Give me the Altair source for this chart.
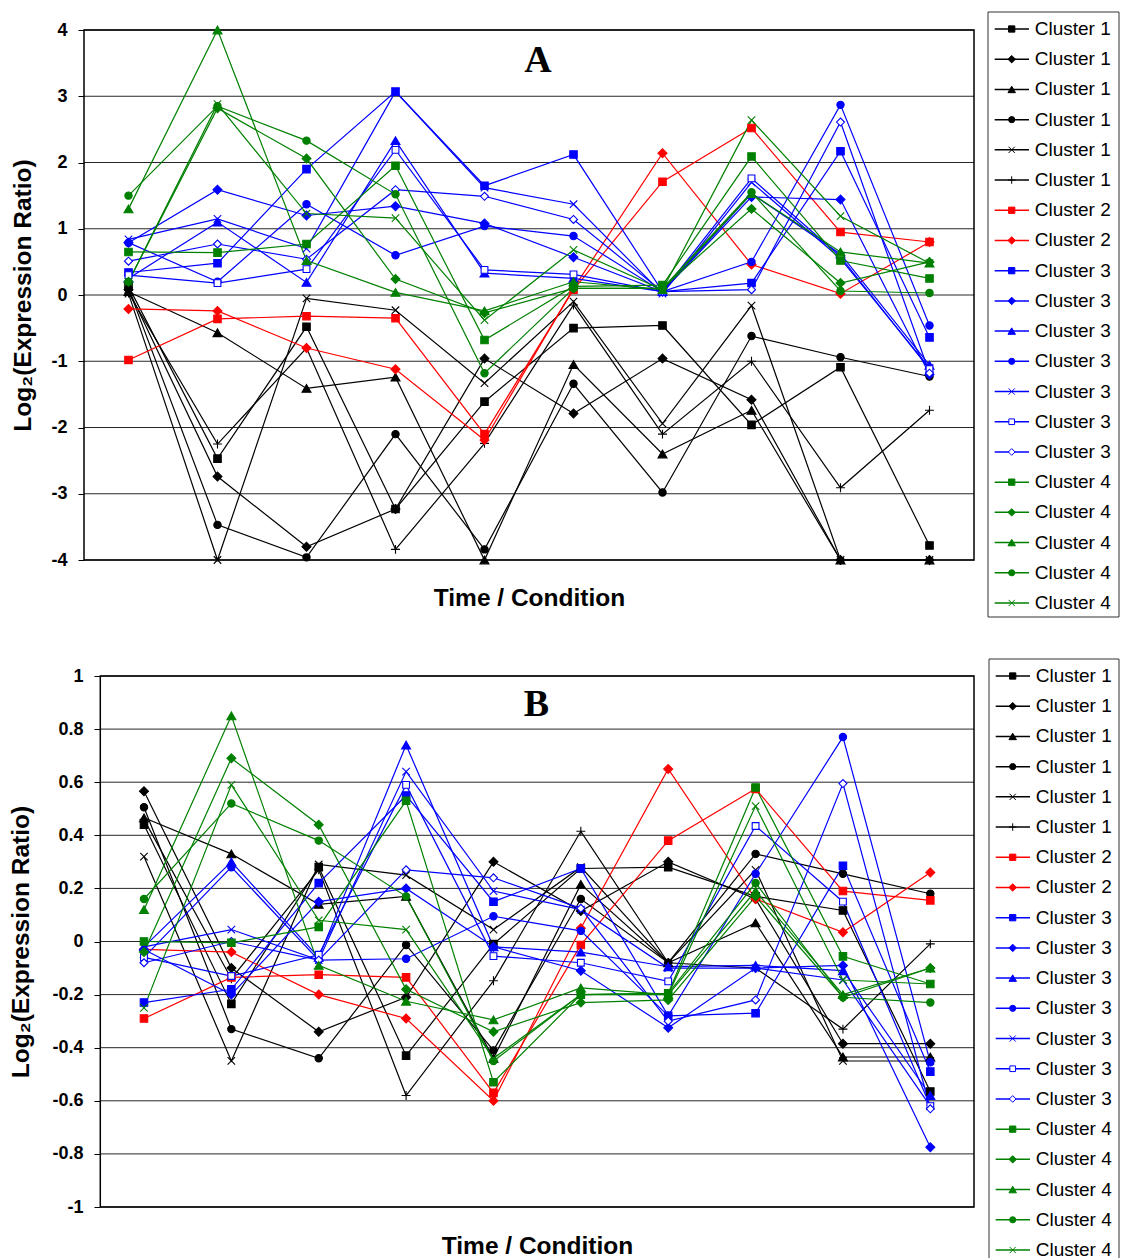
import altair as alt
import pandas as pd

# ---------------- data ----------------
time_points = [1, 2, 3, 4, 5, 6, 7, 8, 9, 10]
series_names = ["Cluster 1"] * 6 + ["Cluster 2"] * 2 + ["Cluster 3"] * 7 + ["Cluster 4"] * 5
series_markers = ["square", "diamond", "triangle", "circle", "x", "plus",
                  "square", "diamond",
                  "square", "diamond", "triangle", "circle", "x", "open_square", "open_diamond",
                  "square", "diamond", "triangle", "circle", "x"]
cluster_colors = {"Cluster 1": "#000000", "Cluster 2": "#FF0000",
                  "Cluster 3": "#0000FF", "Cluster 4": "#008000"}

# Panel A  (log2 expression ratio)
a_c1_square = [0.13, -2.47, -0.48, -3.23, -1.61, -0.50, -0.46, -1.96, -1.09, -3.78]
a_c1_diamond = [0.08, -2.74, -3.80, -3.23, -0.96, -1.79, -0.96, -1.58, -4.00, -4.00]
a_c1_triangle = [0.05, -0.57, -1.41, -1.24, -4.00, -1.05, -2.40, -1.74, -4.00, -4.00]
a_c1_circle = [0.10, -3.47, -3.96, -2.10, -3.84, -1.34, -2.98, -0.62, -0.94, -1.23]
a_c1_x = [0.02, -4.00, -0.05, -0.23, -1.33, -0.10, -1.94, -0.16, -4.00, -4.00]
a_c1_plus = [0.03, -2.25, -0.80, -3.84, -2.24, -0.15, -2.10, -1.00, -2.91, -1.74]
a_c2_square = [-0.98, -0.36, -0.32, -0.35, -2.10, 0.08, 1.71, 2.52, 0.95, 0.80]
a_c2_diamond = [-0.21, -0.24, -0.80, -1.12, -2.19, 0.10, 2.14, 0.46, 0.02, 0.80]
a_c3_square = [0.34, 0.48, 1.90, 3.07, 1.65, 2.12, 0.05, 0.18, 2.17, -0.64]
a_c3_diamond = [0.79, 1.59, 1.20, 1.34, 1.08, 0.57, 0.05, 1.48, 1.44, -1.20]
a_c3_triangle = [0.25, 1.10, 0.19, 2.33, 0.33, 0.25, 0.05, 1.53, 0.62, -1.06]
a_c3_circle = [0.79, 0.20, 1.37, 0.60, 1.04, 0.89, 0.05, 0.50, 2.87, -0.46]
a_c3_x = [0.84, 1.15, 0.70, 3.07, 1.62, 1.37, 0.02, 1.70, 0.55, -1.10]
a_c3_open_square = [0.30, 0.18, 0.39, 2.19, 0.38, 0.31, 0.05, 1.76, 0.58, -1.12]
a_c3_open_diamond = [0.51, 0.77, 0.54, 1.59, 1.49, 1.14, 0.05, 0.08, 2.61, -1.18]
a_c4_square = [0.65, 0.64, 0.77, 1.95, -0.68, 0.13, 0.15, 2.09, 0.52, 0.25]
a_c4_diamond = [0.20, 2.82, 2.06, 0.24, -0.27, 0.10, 0.10, 1.30, 0.18, 0.50]
a_c4_triangle = [1.30, 4.00, 0.52, 0.04, -0.24, 0.20, 0.08, 1.53, 0.65, 0.48]
a_c4_circle = [1.50, 2.85, 2.33, 1.52, -1.18, 0.10, 0.10, 1.55, 0.06, 0.03]
a_c4_x = [0.20, 2.88, 1.23, 1.16, -0.38, 0.68, 0.08, 2.64, 1.19, 0.48]

# Panel B
b_c1_square = [0.44, -0.235, 0.28, -0.43, -0.01, 0.275, 0.28, 0.17, 0.117, -0.565]
b_c1_diamond = [0.566, -0.10, -0.34, -0.21, 0.30, 0.115, 0.30, 0.16, -0.385, -0.385]
b_c1_triangle = [0.466, 0.33, 0.14, 0.17, -0.44, 0.215, -0.08, 0.07, -0.435, -0.435]
b_c1_circle = [0.506, -0.33, -0.44, -0.013, -0.41, 0.16, -0.08, 0.33, 0.255, 0.18]
b_c1_x = [0.32, -0.45, 0.29, 0.25, 0.045, 0.28, -0.08, 0.27, -0.45, -0.45]
b_c1_plus = [0.46, -0.14, 0.27, -0.58, -0.148, 0.415, -0.08, -0.10, -0.33, -0.009]
b_c2_square = [-0.29, -0.135, -0.125, -0.135, -0.57, -0.013, 0.38, 0.575, 0.19, 0.155]
b_c2_diamond = [-0.03, -0.04, -0.20, -0.29, -0.60, 0.05, 0.65, 0.16, 0.035, 0.26]
b_c3_square = [-0.23, -0.18, 0.22, 0.55, 0.15, 0.275, -0.28, -0.27, 0.285, -0.49]
b_c3_diamond = [-0.03, -0.20, 0.15, 0.20, -0.02, -0.11, -0.325, -0.10, -0.09, -0.775]
b_c3_triangle = [-0.02, 0.30, -0.06, 0.74, -0.02, -0.04, -0.095, -0.09, -0.11, -0.58]
b_c3_circle = [-0.06, 0.28, -0.07, -0.065, 0.095, 0.04, -0.28, 0.255, 0.77, -0.455]
b_c3_x = [-0.02, 0.045, -0.07, 0.64, 0.19, 0.12, -0.10, -0.10, -0.145, -0.62]
b_c3_open_square = [-0.06, -0.13, -0.05, 0.59, -0.055, -0.08, -0.15, 0.435, 0.15, -0.62]
b_c3_open_diamond = [-0.08, 0.00, -0.07, 0.27, 0.24, 0.125, -0.30, -0.22, 0.595, -0.63]
b_c4_square = [0.00, -0.005, 0.055, 0.53, -0.53, -0.20, -0.195, 0.58, -0.056, -0.16]
b_c4_diamond = [-0.04, 0.69, 0.44, -0.18, -0.34, -0.23, -0.22, 0.17, -0.21, -0.10]
b_c4_triangle = [0.12, 0.85, -0.09, -0.225, -0.295, -0.175, -0.20, 0.19, -0.20, -0.10]
b_c4_circle = [0.16, 0.52, 0.38, 0.17, -0.45, -0.20, -0.195, 0.22, -0.21, -0.23]
b_c4_x = [-0.25, 0.59, 0.08, 0.045, -0.44, -0.20, -0.20, 0.51, -0.145, -0.16]

panel_a_series = [a_c1_square, a_c1_diamond, a_c1_triangle, a_c1_circle, a_c1_x, a_c1_plus,
                  a_c2_square, a_c2_diamond,
                  a_c3_square, a_c3_diamond, a_c3_triangle, a_c3_circle, a_c3_x,
                  a_c3_open_square, a_c3_open_diamond,
                  a_c4_square, a_c4_diamond, a_c4_triangle, a_c4_circle, a_c4_x]
panel_b_series = [b_c1_square, b_c1_diamond, b_c1_triangle, b_c1_circle, b_c1_x, b_c1_plus,
                  b_c2_square, b_c2_diamond,
                  b_c3_square, b_c3_diamond, b_c3_triangle, b_c3_circle, b_c3_x,
                  b_c3_open_square, b_c3_open_diamond,
                  b_c4_square, b_c4_diamond, b_c4_triangle, b_c4_circle, b_c4_x]

y_ticks_a = [-4, -3, -2, -1, 0, 1, 2, 3, 4]
y_ticks_b = [-1, -0.8, -0.6, -0.4, -0.2, 0, 0.2, 0.4, 0.6, 0.8, 1]

# ---------------- styles ----------------
X_PATH = "M-1,-1L1,1M-1,1L1,-1"
PLUS_PATH = "M-1,0L1,0M0,-1L0,1"
MARKER_STYLE = {
    "square": ("square", "solid", 56),
    "diamond": ("diamond", "solid", 80),
    "triangle": ("triangle-up", "solid", 80),
    "circle": ("circle", "solid", 54),
    "x": (X_PATH, "none", 56),
    "plus": (PLUS_PATH, "none", 80),
    "open_square": ("square", "white", 46),
    "open_diamond": ("diamond", "white", 64),
}


def fill_for(kind, color):
    if kind == "solid":
        return color
    if kind == "white":
        return "#FFFFFF"
    return "transparent"


def build_df(series_list):
    rows = []
    for i, vals in enumerate(series_list):
        color = cluster_colors[series_names[i]]
        shape, fk, size = MARKER_STYLE[series_markers[i]]
        for t, v in zip(time_points, vals):
            rows.append(dict(s=i, t=t, v=v, color=color, shape=shape,
                             fill=fill_for(fk, color), size=size))
    return pd.DataFrame(rows)


legend_rows = []
for i, name in enumerate(series_names):
    color = cluster_colors[name]
    shape, fk, size = MARKER_STYLE[series_markers[i]]
    legend_rows.append(dict(row=i, label=name, color=color, shape=shape,
                            fill=fill_for(fk, color), lsize=size * 0.7))
legend_df = pd.DataFrame(legend_rows)
one = pd.DataFrame({"k": [0]})

FONT = "Liberation Sans"
LABEL_EXPR = "datum.value < 0 ? '-' + format(-datum.value, '~g') : format(datum.value, '~g')"
VIEW_W = 890


def panel(series_list, ydomain, yticks, xdomain, letter, h, title_pad, axis_offset,
          xtitle_x, xtitle_pad, leg, box_layers):
    df = build_df(series_list)
    frame_df = pd.DataFrame({"t": [0.5], "t2": [10.5], "v": [ydomain[0]], "v2": [ydomain[1]]})
    grid_df = pd.DataFrame({"t": [0.5] * len(yticks), "t2": [10.5] * len(yticks), "v": yticks})

    x = alt.X("t:Q", scale=alt.Scale(domain=xdomain, nice=False, zero=False),
              axis=alt.Axis(labels=False, ticks=False, grid=False, domain=False,
                            title="Time / Condition", titleFont=FONT, titleFontSize=24.5,
                            titleFontWeight="bold", titleColor="#000",
                            titlePadding=xtitle_pad, titleX=xtitle_x, titleAlign="center"))
    y = alt.Y("v:Q", scale=alt.Scale(domain=ydomain, nice=False, zero=False),
              axis=alt.Axis(values=yticks, labelExpr=LABEL_EXPR, grid=False,
                            domain=False, tickSize=6, tickColor="#000", tickWidth=1,
                            labelFont=FONT, labelFontSize=18, labelFontWeight="bold",
                            labelColor="#000", labelPadding=11, offset=axis_offset,
                            title="Log₂(Expression Ratio)", titleFont=FONT,
                            titleFontSize=24.5, titleFontWeight="bold", titleColor="#000",
                            titlePadding=title_pad))
    grid = alt.Chart(grid_df).mark_rule(stroke="#000", strokeWidth=1, opacity=0.85).encode(
        x=x, x2="t2:Q", y=y)
    frame = alt.Chart(frame_df).mark_rect(fillOpacity=0, stroke="#000", strokeWidth=1.5).encode(
        x=x, x2="t2:Q", y=y, y2="v2:Q")
    base = alt.Chart(df)
    lines = base.mark_line(strokeWidth=1.2).encode(
        x=x, y=y, detail="s:N", stroke=alt.Stroke("color:N", scale=None))
    pts = base.mark_point(opacity=1, strokeWidth=1.1).encode(
        x=x, y=y, detail="s:N",
        shape=alt.Shape("shape:N", scale=None),
        fill=alt.Fill("fill:N", scale=None),
        stroke=alt.Stroke("color:N", scale=None),
        size=alt.Size("size:Q", scale=None))
    data_layer = alt.layer(grid, frame, lines, pts)

    ly = alt.Y("row:Q", scale=alt.Scale(domain=[0, 19], range=leg["range"]), axis=None)
    lb = alt.Chart(legend_df)
    leg_rule = lb.mark_rule(strokeWidth=1.5).encode(
        x=alt.value(leg["x0"]), x2=alt.value(leg["x1"]), y=ly,
        stroke=alt.Stroke("color:N", scale=None))
    leg_pt = lb.mark_point(opacity=1, strokeWidth=1).encode(
        x=alt.value(leg["xm"]), y=ly,
        shape=alt.Shape("shape:N", scale=None),
        fill=alt.Fill("fill:N", scale=None),
        stroke=alt.Stroke("color:N", scale=None),
        size=alt.Size("lsize:Q", scale=None))
    leg_txt = lb.mark_text(align="left", baseline="middle", font=FONT, fontSize=19,
                           color="#000").encode(
        x=alt.value(leg["xt"]), y=ly, text="label:N")

    letter_mark = alt.Chart(one).mark_text(
        font="Liberation Serif", fontWeight="bold", fontSize=38, align="center",
        baseline="alphabetic", color="#000").encode(
        x=alt.value(letter[1]), y=alt.value(letter[2]), text=alt.value(letter[0]))

    layers = box_layers + [data_layer, leg_rule, leg_pt, leg_txt, letter_mark]
    return alt.layer(*layers).resolve_scale(y="independent").properties(width=VIEW_W, height=h)


# legend box for panel A (full rectangle)
box_a = [alt.Chart(one).mark_rect(fillOpacity=0, stroke="#333", strokeWidth=1).encode(
    x=alt.value(904), x2=alt.value(1035), y=alt.value(-18), y2=alt.value(587))]
# legend box for panel B (runs off the bottom of the page)
box_b = [
    alt.Chart(one).mark_rule(stroke="#333", strokeWidth=1).encode(
        x=alt.value(905), y=alt.value(-17), y2=alt.value(582)),
    alt.Chart(one).mark_rule(stroke="#333", strokeWidth=1).encode(
        x=alt.value(1035), y=alt.value(-17), y2=alt.value(582)),
    alt.Chart(one).mark_rule(stroke="#333", strokeWidth=1).encode(
        x=alt.value(905), x2=alt.value(1035), y=alt.value(-17)),
]

# panel B plot frame starts 16 px right of panel A's
chart_a = panel(panel_a_series, [-4, 4], y_ticks_a, [0.5, 10.5], ("A", 454, 42.3), 530, 15, 0,
                445, 26.5,
                dict(range=[-1, 573], x0=910.7, x1=945, xm=927.7, xt=950.7), box_a)
chart_b = panel(panel_b_series, [-1, 1], y_ticks_b, [0.3135, 10.5], ("B", 452.5, 40), 531, 18, -16,
                453, 27,
                dict(range=[0, 574], x0=911.7, x1=946, xm=928.7, xt=951.7), box_b)

chart = alt.concat(chart_a, chart_b, columns=1, spacing=40).configure_view(
    stroke=None
).properties(
    padding={"left": 8, "top": 11, "right": 0, "bottom": 0},
    background="white",
)

chart.save("out.html", embed_options={"renderer": "svg", "actions": False})
